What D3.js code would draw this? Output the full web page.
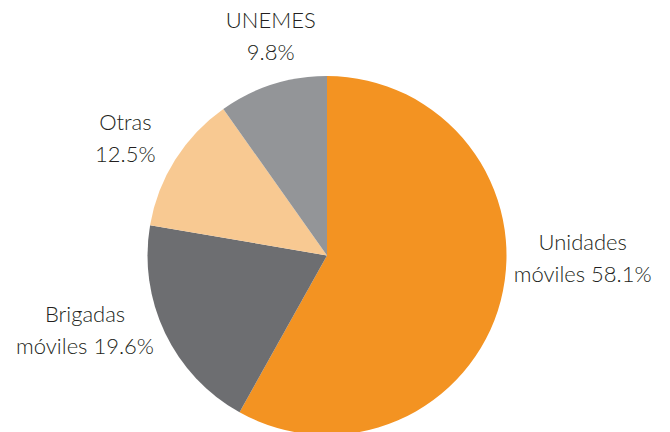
<!DOCTYPE html>
<html>
<head>
<meta charset="utf-8">
<script src="https://cdn.jsdelivr.net/npm/d3@7"></script>
<style>
  html, body { margin: 0; padding: 0; background: #fff; }
  svg { display: block; }
  text { font-family: "Lato", "Open Sans", "DejaVu Sans", sans-serif; font-weight: 300; fill: #231f20; }
</style>
</head>
<body>
<svg id="chart" width="670" height="432"></svg>
<script>
// Share of services by unit type (percent)
const categories = ["Unidades móviles", "Brigadas móviles", "Otras", "UNEMES"];
const values = [58.1, 19.6, 12.5, 9.8];
const colors = ["#f39322", "#6d6e71", "#f8c992", "#939598"];
// Label lines per slice
const labelLines = [
  ["Unidades", "móviles 58.1%"],
  ["Brigadas", "móviles 19.6%"],
  ["Otras", "12.5%"],
  ["UNEMES", "9.8%"]
];

const width = 670, height = 432;
const cx = 327, cy = 255.5, radius = 179.5;

const svg = d3.select("#chart");
const g = svg.append("g").attr("transform", `translate(${cx},${cy})`);

const pie = d3.pie().sort(null).value(d => d)(values);
const arc = d3.arc().innerRadius(0).outerRadius(radius);

g.selectAll("path.slice")
  .data(pie)
  .join("path")
  .attr("class", "slice")
  .attr("d", arc)
  .attr("fill", (d, i) => colors[i]);

// Label anchor points, placed outside the pie around each slice
const labelArc = d3.arc().innerRadius(radius * 1.42).outerRadius(radius * 1.42);
const offsets = [[9, -61], [-12, -34], [14, 19], [21, 24]];

const labels = g.selectAll("text.label")
  .data(pie)
  .join("text")
  .attr("class", "label")
  .attr("text-anchor", "middle")
  .attr("font-size", 22)
  .attr("transform", (d, i) => {
    const [x, y] = labelArc.centroid(d);
    return `translate(${x + offsets[i][0]},${y + offsets[i][1]})`;
  });

labels.selectAll("tspan")
  .data((d, i) => labelLines[i].map((t, k) => ({ t, k })))
  .join("tspan")
  .attr("x", 0)
  .attr("y", d => d.k === 0 ? -9 : 23)
  .text(d => d.t);
</script>
</body>
</html>
